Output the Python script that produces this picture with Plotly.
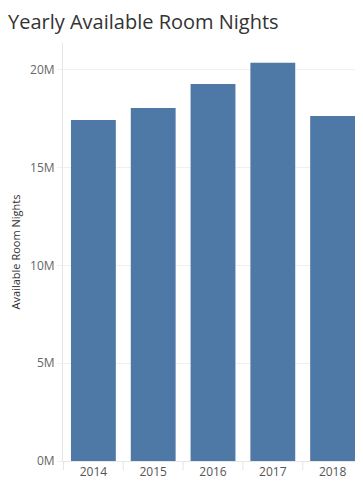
import plotly.graph_objects as go

years = ["2014", "2015", "2016", "2017", "2018"]
room_nights = [17.43e6, 18.05e6, 19.27e6, 20.36e6, 17.64e6]
y_tickvals = [0, 5e6, 10e6, 15e6, 20e6]
y_ticktext = ["0M", "5M", "10M", "15M", "20M"]

fig = go.Figure(go.Bar(x=years, y=room_nights, marker_color="#4E79A7",
                       marker_line_width=0))

shapes = []
for i in range(len(years) + 1):
    shapes.append(dict(type="line", xref="x", yref="paper", x0=i - 0.5, x1=i - 0.5,
                       y0=0, y1=-0.022, line=dict(color="#e6e6e6", width=1)))

# page body has an 8px margin, so the figure is sized to fit the 363x482 window
fig.update_layout(
    width=355, height=474,
    margin=dict(l=55, r=0, t=35, b=21),
    paper_bgcolor="white", plot_bgcolor="white",
    font=dict(family="Open Sans", color="#666666", size=12),
    title=dict(text="Yearly Available Room Nights", x=0, xanchor="left",
               xref="container", pad=dict(l=0, t=0),
               y=0.971, yanchor="middle",
               font=dict(family="Open Sans", size=20, color="#333333")),
    bargap=0.25,
    showlegend=False,
    shapes=shapes,
    xaxis=dict(type="category", showgrid=False, ticks="", showline=True,
               linecolor="#e6e6e6", linewidth=1,
               tickfont=dict(size=12, color="#555555")),
    yaxis=dict(range=[0, 21.37e6], tickvals=y_tickvals, ticktext=y_ticktext,
               showgrid=True, gridcolor="#f0f0f0", gridwidth=1,
               showline=True, linecolor="#e6e6e6", linewidth=1,
               ticks="outside", ticklen=5, tickcolor="#f0f0f0",
               zeroline=False,
               tickfont=dict(size=12, color="#666666"),
               title=dict(text="Available Room Nights", standoff=7,
                          font=dict(size=11, color="#333333"))),
)

fig.write_html("out.html")
